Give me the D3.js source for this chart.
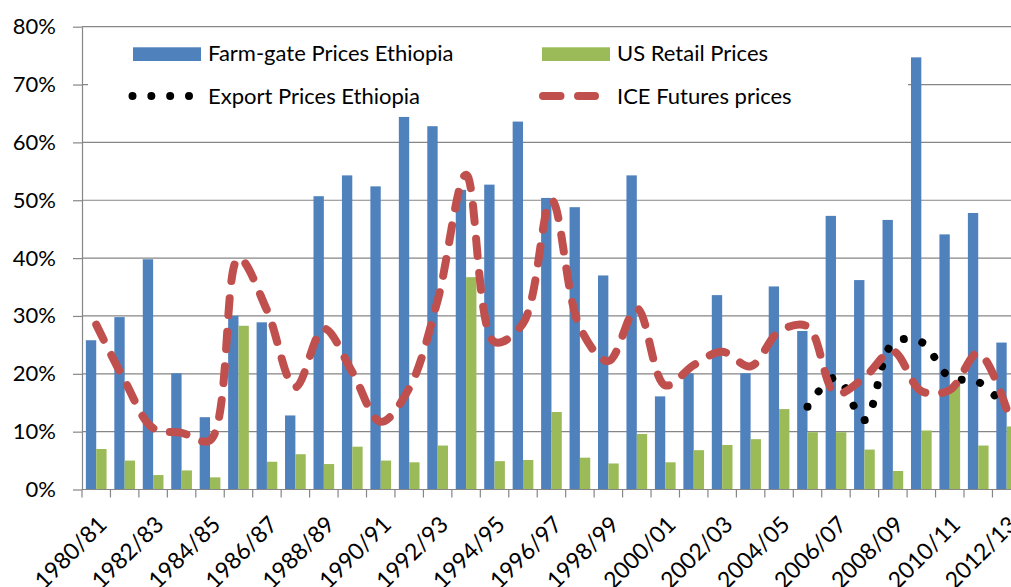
<!DOCTYPE html>
<html>
<head>
<meta charset="utf-8">
<script src="https://cdn.jsdelivr.net/npm/d3@7"></script>
<style>
  html, body { margin: 0; padding: 0; background: #fff; }
  svg { display: block; }
  text { font-family: Lato, "Open Sans", sans-serif; fill: #000; }
</style>
</head>
<body>
<div id="chart"></div>
<script>
// ---- data ----
const categories = ["1980/81","1981/82","1982/83","1983/84","1984/85","1985/86","1986/87","1987/88","1988/89","1989/90",
  "1990/91","1991/92","1992/93","1993/94","1994/95","1995/96","1996/97","1997/98","1998/99","1999/00",
  "2000/01","2001/02","2002/03","2003/04","2004/05","2005/06","2006/07","2007/08","2008/09","2009/10",
  "2010/11","2011/12","2012/13"];
const farmGate = [25.8, 29.8, 39.8, 20.1, 12.5, 30.0, 28.9, 12.8, 50.7, 54.3,
  52.4, 64.4, 62.8, 51.8, 52.7, 63.6, 50.4, 48.8, 37.0, 54.3,
  16.1, 20.1, 33.6, 20.1, 35.1, 27.4, 47.3, 36.2, 46.6, 74.7,
  44.1, 47.8, 25.4];
const usRetail = [7.0, 5.0, 2.5, 3.3, 2.1, 28.3, 4.8, 6.1, 4.4, 7.4,
  5.0, 4.7, 7.6, 36.7, 4.9, 5.1, 13.4, 5.5, 4.5, 9.6,
  4.7, 6.8, 7.7, 8.7, 13.9, 9.9, 9.9, 6.9, 3.2, 10.2,
  18.1, 7.6, 10.9];
const iceFutures = [28.5, 18.8, 10.6, 9.8, 8.5, 40.0, 31.0, 17.7, 27.8, 20.3,
  11.7, 17.5, 32.7, 54.4, 25.5, 28.7, 50.0, 28.0, 22.2, 31.3,
  18.0, 21.5, 23.8, 21.3, 27.3, 28.2, 16.6, 19.4, 23.9, 17.0,
  17.2, 23.6, 13.9];
const exportPrices = [null, null, null, null, null, null, null, null, null, null,
  null, null, null, null, null, null, null, null, null, null,
  null, null, null, null, null, 14.3, 19.4, 12.0, 25.3, 25.5,
  19.4, 18.6, 14.0];
const yTicks = [0, 0.1, 0.2, 0.3, 0.4, 0.5, 0.6, 0.7, 0.8];
const xTickLabels = categories.filter((d, i) => i % 2 === 0);
const seriesNames = ["Farm-gate Prices Ethiopia", "US Retail Prices", "Export Prices Ethiopia", "ICE Futures prices"];
const colors = { farm: "#4F81BD", us: "#9BBB59", export: "#000000", ice: "#C0504D" };

// ---- layout ----
const W = 1011, H = 587;
const svg = d3.select("#chart").append("svg").attr("width", W).attr("height", H);

const x = d3.scaleBand().domain(categories).range([82, 1020.9]).paddingInner(0).paddingOuter(0);
const xs = d3.scaleBand().domain(["farm", "us"]).range([0, x.bandwidth()]).paddingInner(0).paddingOuter(0.375);
const y = d3.scaleLinear().domain([0, 0.8]).range([489.5, 26.7]);
const axisColor = "#868686";

// gridlines
svg.append("g").selectAll("line").data(yTicks).join("line")
  .attr("x1", 82).attr("x2", W)
  .attr("y1", d => y(d)).attr("y2", d => y(d))
  .attr("stroke", axisColor).attr("stroke-width", 1.2);

// bars
const barG = svg.append("g");
barG.selectAll("rect.farm").data(categories).join("rect").attr("class", "farm")
  .attr("x", d => x(d) + xs("farm")).attr("width", xs.bandwidth())
  .attr("y", (d, i) => y(farmGate[i] / 100)).attr("height", (d, i) => y(0) - y(farmGate[i] / 100))
  .attr("fill", colors.farm);
barG.selectAll("rect.us").data(categories).join("rect").attr("class", "us")
  .attr("x", d => x(d) + xs("us")).attr("width", xs.bandwidth())
  .attr("y", (d, i) => y(usRetail[i] / 100)).attr("height", (d, i) => y(0) - y(usRetail[i] / 100))
  .attr("fill", colors.us);

// lines
const cx = d => x(d) + x.bandwidth() / 2;
const lineGen = vals => d3.line()
  .defined((d, i) => vals[i] != null)
  .x(d => cx(d))
  .y((d, i) => y(vals[i] / 100))
  .curve(d3.curveCatmullRom.alpha(0.5));

svg.append("path").datum(categories)
  .attr("d", lineGen(exportPrices))
  .attr("fill", "none").attr("stroke", colors.export).attr("stroke-width", 8)
  .attr("stroke-linecap", "round").attr("stroke-dasharray", "0.01,18.99");

svg.append("path").datum(categories)
  .attr("d", lineGen(iceFutures))
  .attr("fill", "none").attr("stroke", colors.ice).attr("stroke-width", 8)
  .attr("stroke-linecap", "round").attr("stroke-dasharray", "17,17");

// y axis
const yAxis = d3.axisLeft(y).tickValues(yTicks).tickFormat(d3.format(".0%"))
  .tickSizeInner(9).tickSizeOuter(0).tickPadding(17);
const yg = svg.append("g").attr("transform", "translate(82,0)").call(yAxis);
yg.select(".domain").attr("stroke", axisColor).attr("stroke-width", 1.2);
yg.selectAll(".tick line").attr("stroke", axisColor).attr("stroke-width", 1.2);
yg.selectAll(".tick text").style("font-family", "Lato").style("font-size", "22px").attr("fill", "#000");

// x axis
const xg = svg.append("g");
xg.append("line").attr("x1", 82).attr("x2", W).attr("y1", y(0)).attr("y2", y(0))
  .attr("stroke", axisColor).attr("stroke-width", 1.2);
xg.selectAll("line.tick").data(categories).join("line").attr("class", "tick")
  .attr("x1", d => x(d)).attr("x2", d => x(d))
  .attr("y1", y(0)).attr("y2", y(0) + 8)
  .attr("stroke", axisColor).attr("stroke-width", 1.2);
xg.selectAll("text").data(xTickLabels).join("text")
  .attr("transform", d => `translate(${cx(d) + 12},${526}) rotate(-45)`)
  .attr("text-anchor", "end")
  .style("font-size", "23px")
  .text(d => d);

// legend
const lg = svg.append("g");
lg.append("rect").attr("x", 88).attr("y", 31).attr("width", 820).attr("height", 82).attr("fill", "#fff");
const legendPos = [
  { name: seriesNames[0], type: "bar", color: colors.farm, sx: 133, tx: 208, row: 0 },
  { name: seriesNames[1], type: "bar", color: colors.us, sx: 542, tx: 617, row: 0 },
  { name: seriesNames[2], type: "dot", color: colors.export, sx: 132.5, tx: 208, row: 1 },
  { name: seriesNames[3], type: "dash", color: colors.ice, sx: 543, tx: 617, row: 1 }
];
const rowBase = [61, 104];
const rowMid = [54, 96];
legendPos.forEach(l => {
  if (l.type === "bar") {
    lg.append("rect").attr("x", l.sx).attr("y", 47.3).attr("width", 68).attr("height", 13.7).attr("fill", l.color);
  } else if (l.type === "dot") {
    lg.append("path").attr("d", `M${l.sx},${rowMid[1]}H${l.sx + 56.5}`)
      .attr("stroke", l.color).attr("stroke-width", 8).attr("stroke-linecap", "round")
      .attr("stroke-dasharray", "0.01,18.82");
  } else {
    lg.append("path").attr("d", `M${l.sx},${rowMid[1]}H${l.sx + 52}`)
      .attr("stroke", l.color).attr("stroke-width", 8).attr("stroke-linecap", "round")
      .attr("stroke-dasharray", "17.5,17.5");
  }
  lg.append("text").attr("x", l.tx).attr("y", rowBase[l.row]).style("font-size", "22px").text(l.name);
});
</script>
</body>
</html>
